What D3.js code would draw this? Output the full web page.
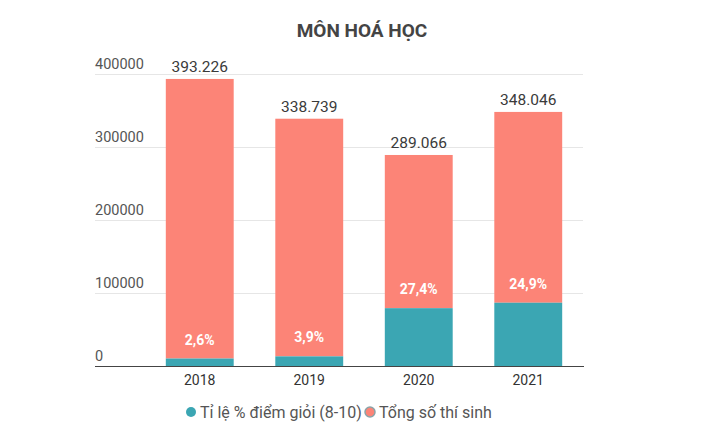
<!DOCTYPE html>
<html>
<head>
<meta charset="utf-8">
<script src="https://cdn.jsdelivr.net/npm/d3@7"></script>
<style>
  body { margin: 0; background: #fff; }
  text { font-family: Roboto, "Noto Sans", sans-serif; }
</style>
</head>
<body>
<svg id="chart" width="702" height="443"></svg>
<script>
const years = ['2018', '2019', '2020', '2021'];
const totals = [393226, 338739, 289066, 348046];
const goodPct = [2.6, 3.9, 27.4, 24.9];
const yTicks = [0, 100000, 200000, 300000, 400000];
const seriesNames = ['Tỉ lệ % điểm giỏi (8-10)', 'Tổng số thí sinh'];
const colors = ['#3ba6b3', '#fc8477'];

const svg = d3.select('#chart');
const x = d3.scaleBand().domain(years).range([145, 583]).paddingInner(0.38).paddingOuter(0.19);
const y = d3.scaleLinear().domain([0, 400000]).range([366, 74]);

const rows = years.map((yr, i) => ({
	year: yr,
	total: totals[i],
	pct: goodPct[i],
	good: totals[i] * goodPct[i] / 100
}));

// title
svg.append('text')
	.attr('x', 362).attr('y', 37)
	.attr('text-anchor', 'middle')
	.attr('font-size', 19).attr('font-weight', 'bold')
	.attr('fill', '#444')
	.text('MÔN HOÁ HỌC');

// grid + y labels
const grid = svg.append('g');
grid.selectAll('line')
	.data(yTicks.filter(d => d > 0))
	.enter().append('line')
		.attr('x1', 95).attr('x2', 583)
		.attr('y1', d => y(d) + 0.5).attr('y2', d => y(d) + 0.5)
		.attr('stroke', '#e6e6e6');
grid.selectAll('text')
	.data(yTicks)
	.enter().append('text')
		.attr('x', 95).attr('y', d => y(d) - 5)
		.attr('font-size', 14.5).attr('fill', '#555')
		.text(d => d);

// bars
const bars = svg.append('g');
bars.selectAll('rect.total')
	.data(rows)
	.enter().append('rect')
		.classed('total', true)
		.attr('x', d => x(d.year)).attr('width', x.bandwidth())
		.attr('y', d => y(d.total)).attr('height', d => y(d.good) - y(d.total))
		.attr('fill', colors[1]);
bars.selectAll('rect.good')
	.data(rows)
	.enter().append('rect')
		.classed('good', true)
		.attr('x', d => x(d.year)).attr('width', x.bandwidth())
		.attr('y', d => y(d.good)).attr('height', d => y(0) - y(d.good))
		.attr('fill', colors[0]);

// total labels
bars.selectAll('text.total')
	.data(rows)
	.enter().append('text')
		.attr('x', d => x(d.year) + x.bandwidth() / 2)
		.attr('y', d => y(d.total) - 7)
		.attr('text-anchor', 'middle')
		.attr('font-size', 15.5)
		.attr('fill', '#3a3a3a')
		.text(d => d3.format(',')(d.total).replace(/,/g, '.'));

// percent labels
bars.selectAll('text.pct')
	.data(rows)
	.enter().append('text')
		.attr('x', d => x(d.year) + x.bandwidth() / 2)
		.attr('y', d => y(d.good) - 14)
		.attr('text-anchor', 'middle')
		.attr('font-size', 14).attr('font-weight', 'bold')
		.attr('fill', '#fff')
		.text(d => String(d.pct).replace('.', ',') + '%');

// x axis
svg.append('line')
	.attr('x1', 95).attr('x2', 584)
	.attr('y1', 366.5).attr('y2', 366.5)
	.attr('stroke', '#444');
svg.append('g').selectAll('text')
	.data(years)
	.enter().append('text')
		.attr('x', d => x(d) + x.bandwidth() / 2)
		.attr('y', 385)
		.attr('text-anchor', 'middle')
		.attr('font-size', 14).attr('fill', '#333')
		.text(d => d);

// legend
const legend = svg.append('g');
const lx = [191, 370];
seriesNames.forEach((name, i) => {
	legend.append('circle')
		.attr('cx', lx[i]).attr('cy', 412).attr('r', 5)
		.attr('fill', colors[i])
		.attr('stroke', i === 1 ? '#8aa3a8' : 'none').attr('stroke-width', 1.5);
	legend.append('text')
		.attr('x', lx[i] + 9).attr('y', 418)
		.attr('font-size', 16).attr('fill', '#555')
		.text(name);
});
</script>
</body>
</html>
